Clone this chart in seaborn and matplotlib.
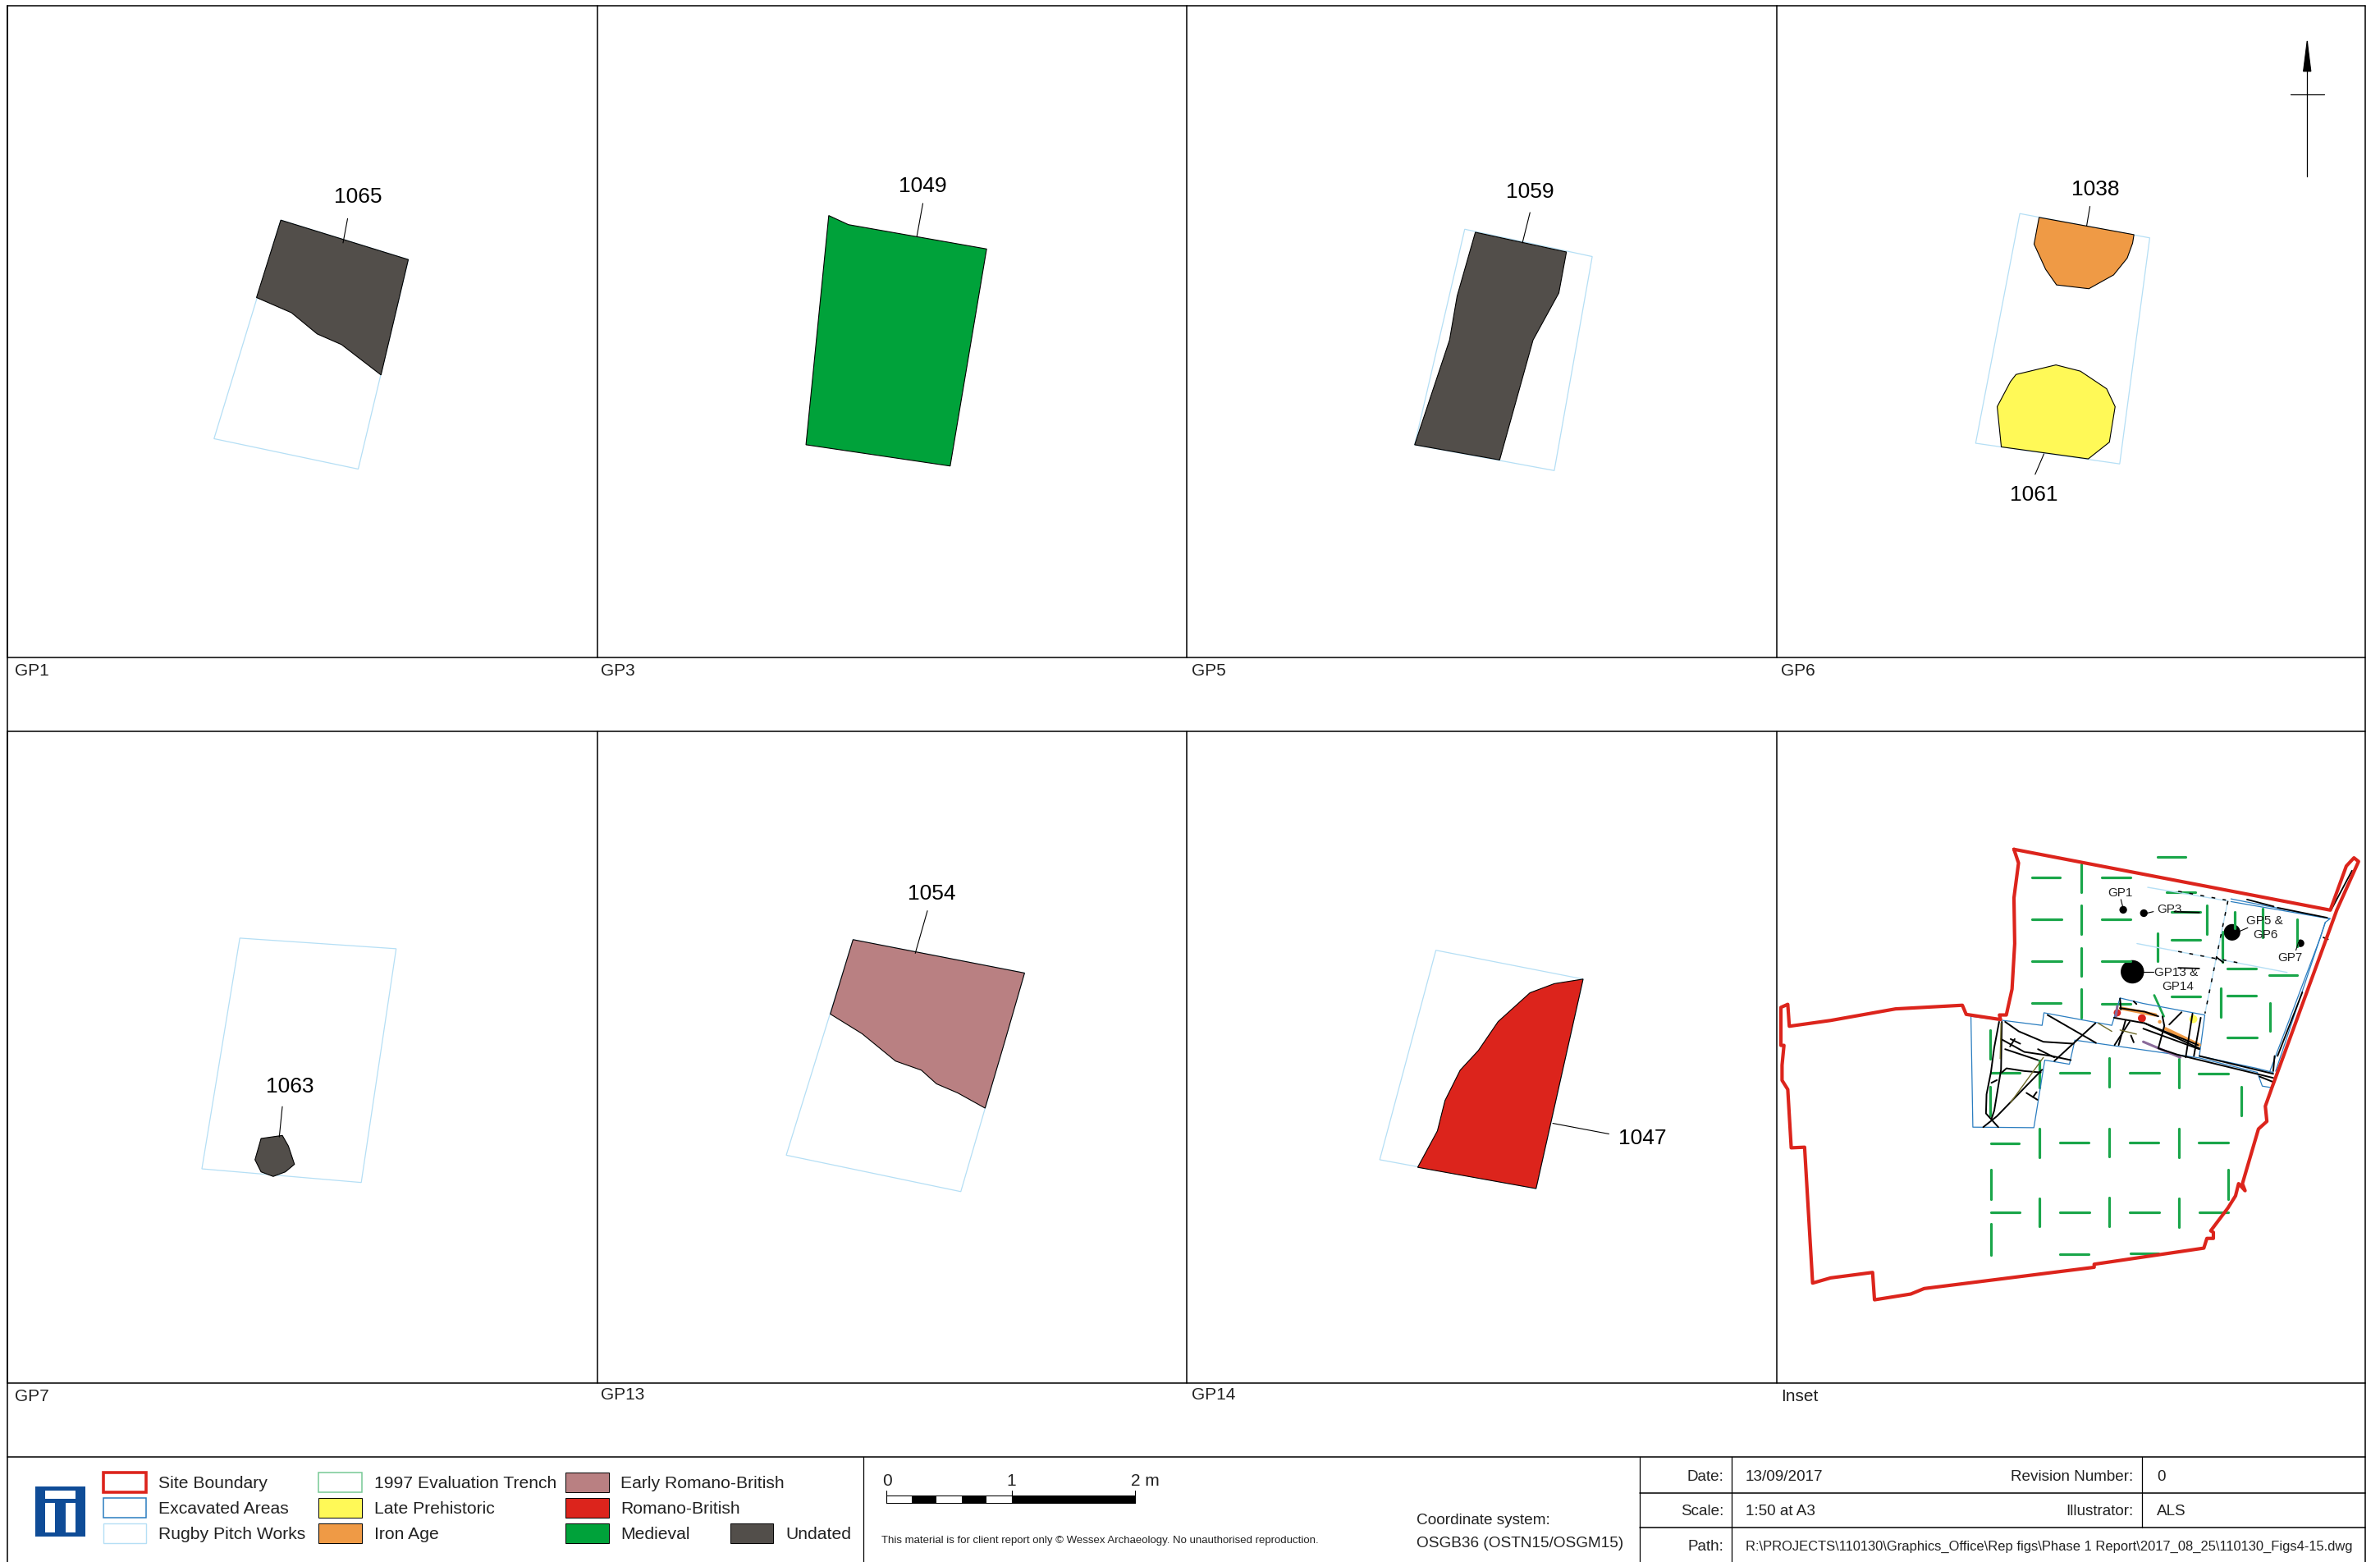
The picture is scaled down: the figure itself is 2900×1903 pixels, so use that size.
import pandas as pd
import seaborn as sns
import matplotlib.pyplot as plt
from matplotlib.patches import Rectangle

sns.set_theme(style='white')
plt.rcParams['font.family'] = ['Liberation Sans', 'DejaVu Sans']

RED = '#dc241c'
GREEN = '#00a23a'
DARK = '#524e4a'
BROWN = '#b98082'
ORANGE = '#ef9a45'
YELLOW = '#fff957'
PITCH = '#b5dff5'
BLUE = '#2a7dc0'
TRENCH = '#1aa64a'
LOGO = '#0f4c97'
PURPLE = '#8a6a9a'
OLIVE = '#6f6a2a'

# Panel shapes, in sheet units (1568 wide, 1029 high)
gp1_rect = [(185, 145), (269, 171), (236, 309), (141, 289)]
gp1_fill = [(185, 145), (269, 171), (251, 247), (225, 227), (209, 220), (192, 206), (169, 196)]
gp3_fill = [(546, 142), (559, 148), (650, 164), (626, 307), (531, 293)]
gp5_rect = [(965, 151), (1049, 169), (1024, 310), (932, 293)]
gp5_fill = [(972, 153), (1032, 166), (1027, 193), (1010, 224), (988, 303), (932, 293), (955, 224), (960, 195)]
gp6_rect = [(1330.7, 140.7), (1416.3, 156.7), (1396.5, 305.6), (1301.6, 292)]
gp6_orange = [(1343.4, 143.2), (1405.9, 154.6), (1405, 160.2), (1401.4, 170.1), (1392.5, 181.1), (1376.2, 190.2), (1354.9, 187.7), (1347.7, 177.4), (1340.1, 160.8)]
gp6_yellow = [(1318.5, 294.4), (1315.8, 267.9), (1324.6, 251.3), (1328.2, 246.7), (1354.5, 240.4), (1370.6, 244.5), (1387.9, 256.1), (1393.5, 267.9), (1389.7, 291.3), (1375.8, 302.3)]
gp7_rect = [(158, 618), (261, 625), (238, 779), (133, 770)]
gp7_fill = [(172, 750), (186, 748), (190, 755), (194, 767), (188, 772), (180, 775), (172, 772), (168, 764)]
gp13_rect = [(562, 619), (675, 641), (633, 785), (518, 761)]
gp13_fill = [(562, 619), (675, 641), (662, 686), (649, 730), (631, 720), (617, 714), (607, 705), (590, 699), (568, 681), (547, 668)]
gp14_rect = [(946, 626), (1043, 645), (1012, 783), (909, 764)]
gp14_fill = [(1043, 645), (1012, 783), (934, 769), (947, 745), (952, 725), (962, 705), (974, 692), (987, 673), (1008, 654), (1024, 648)]

context_labels = ['1065', '1049', '1059', '1038', '1061', '1063', '1054', '1047']
label_xy = [(236, 129), (608, 122), (1008, 126), (1380.5, 124), (1340, 325), (191, 715), (614, 588), (1082, 749)]
leaders = [[(229, 144), (226, 160)], [(608, 134), (604, 156)], [(1008, 140), (1003, 160)],
           [(1376.9, 136), (1374.7, 149)], [(1346.6, 299), (1340.8, 312.5)],
           [(186, 729), (184, 749)], [(611, 600), (603, 628)], [(1023, 740), (1060, 747)]]

panel_names = ['GP1', 'GP3', 'GP5', 'GP6', 'GP7', 'GP13', 'GP14', 'Inset']
panel_name_xy = [(10, 441), (396, 441), (785, 441), (1173.5, 441), (10, 919), (396, 918), (785, 918), (1173.5, 919)]

# Inset map, in units of the enlarged crop it was read from
site_boundary = [(610, 40), (1438, 240), (1480, 95), (1500, 68), (1512, 80), (1455, 240), (1285, 825), (1268, 885),
                 (1272, 935), (1250, 960), (1208, 1140), (1215, 1163), (1198, 1140), (1190, 1180), (1170, 1220),
                 (1125, 1295), (1132, 1300), (1132, 1320), (1115, 1320), (1107, 1352), (820, 1405), (820, 1415),
                 (375, 1485), (340, 1503), (245, 1522), (240, 1432), (130, 1450), (83, 1467), (62, 1020), (27, 1022),
                 (18, 830), (3, 800), (3, 750), (8, 685), (0, 685), (0, 560), (18, 550), (22, 622), (130, 603),
                 (300, 565), (475, 553), (485, 583), (575, 600), (572, 585), (590, 585), (605, 500), (612, 350),
                 (610, 200), (622, 85), (610, 40)]
excavated_ne = [
    [(1178, 203), (1438, 268), (1425, 280), (1412, 330), (1280, 770)],
    [(1178, 212), (1435, 268)],
    [(1425, 280), (1295, 770)],
]
pitch_lines = [[(960, 165), (1170, 210), (1110, 580)], [(932, 350), (1325, 445)]]
features_ne = [
    [(1495, 110), (1440, 240)], [(1365, 510), (1300, 720)],
    [(1140, 395), (1158, 412)], [(1030, 245), (1095, 248)], [(1040, 430), (1095, 432)],
    [(1220, 205), (1290, 228)], [(1300, 232), (1430, 265)], [(1420, 330), (1432, 336)],
]
pitch_dashes = [[(1170, 210), (1110, 580)], [(1040, 376), (1205, 415)], [(1040, 178), (1165, 207)]]
trench_h = [(658, 730, 133), (840, 915, 133), (985, 1060, 64), (1010, 1085, 180), (658, 735, 271), (840, 915, 271),
            (1022, 1098, 247), (1022, 1097, 339), (658, 735, 409), (840, 915, 409), (1168, 1243, 431), (1278, 1352, 454),
            (1022, 1098, 523), (1168, 1243, 522), (658, 732, 547), (840, 915, 548), (1168, 1245, 658),
            (550, 625, 776), (730, 808, 775), (913, 990, 775), (1093, 1170, 779), (550, 623, 1007), (730, 806, 1005),
            (912, 988, 1004), (1093, 1170, 1006), (550, 625, 1235), (730, 808, 1235), (913, 990, 1235), (1095, 1170, 1235),
            (730, 806, 1373), (915, 988, 1370)]
trench_v = [(786, 88, 180), (786, 224, 318), (786, 364, 456), (786, 500, 594), (987, 315, 408), (1115, 225, 318),
            (1187, 245, 300), (1260, 235, 330), (1352, 270, 360), (1155, 310, 410), (1152, 497, 592), (1280, 545, 638),
            (548, 635, 730), (548, 820, 915), (677, 735, 825), (859, 727, 820), (1042, 730, 825), (1205, 820, 915),
            (677, 958, 1052), (859, 958, 1050), (1042, 960, 1052), (549, 1095, 1190), (1170, 1095, 1190),
            (677, 1188, 1280), (859, 1185, 1280), (1042, 1188, 1282), (549, 1272, 1375)]
dots_x = [896, 950, 1181, 1360, 920]
dots_y = [239, 250, 313, 349, 443]
dots_size = [45, 45, 210, 45, 420]
inset_leaders = [[(890, 205), (895, 230)], [(975, 245), (958, 250)], [(1222, 298), (1200, 310)],
                 [(1355, 345), (1348, 372)], [(975, 443), (948, 443)]]
inset_labels = ['GP1', 'GP3', 'GP5 &', 'GP6', 'GP7', 'GP13 &', 'GP14']
inset_label_xy = [(888, 182), (1017, 236), (1265, 272), (1268, 320), (1333, 396), (1035, 442), (1038, 488)]

# Central excavation detail, in units of the second crop
excavated_mid = [
    [(5, 145), (265, 178), (272, 132), (520, 178), (550, 78), (635, 98), (860, 140), (840, 290), (1050, 335), (1110, 350)],
    [(5, 145), (12, 550), (235, 552), (275, 305), (365, 320), (385, 232), (840, 297), (1052, 350), (1070, 400), (1100, 405)],
]
features_mid = [
    [(108, 165), (90, 260), (78, 350), (62, 430), (60, 500), (105, 550)],
    [(118, 165), (115, 340), (90, 490), (80, 520)],
    [(130, 165), (180, 200), (270, 238), (380, 245)],
    [(115, 228), (200, 275), (300, 290), (370, 305)],
    [(150, 228), (185, 245)], [(130, 265), (250, 305)], [(165, 228), (148, 255)], [(250, 265), (310, 295)],
    [(118, 350), (135, 335), (200, 345), (260, 350)],
    [(265, 340), (100, 510), (50, 550)],
    [(208, 425), (248, 450)], [(245, 422), (232, 440)], [(80, 388), (100, 378)],
    [(285, 140), (462, 242)], [(460, 170), (310, 308)],
    [(528, 150), (640, 170), (840, 262)],
    [(640, 170), (835, 250)],
    [(550, 115), (640, 128), (690, 145)], [(550, 80), (553, 120)],
    [(585, 165), (530, 250)], [(570, 160), (545, 250)], [(635, 190), (840, 265)],
    [(705, 145), (712, 180), (690, 262), (760, 285), (1110, 370)],
    [(815, 135), (790, 295)], [(845, 150), (820, 290)], [(775, 130), (730, 175)],
    [(840, 290), (1110, 355)], [(1060, 365), (1110, 385)], [(1115, 290), (1110, 345)],
    [(590, 215), (600, 240)], [(600, 90), (610, 100)],
]
features_olive = [[(470, 170), (520, 200)], [(550, 195), (610, 210)], [(115, 170), (112, 300)], [(270, 295), (150, 460)]]
features_orange = [[(552, 115), (680, 140)], [(715, 190), (840, 250)]]
features_purple = [[(635, 238), (770, 295)], [(540, 108), (535, 145)]]
trench_mid = [[(675, 68), (710, 145)]]
spots_x = [630, 540, 818, 695]
spots_y = [152, 132, 155, 165]
spots_color = [RED, RED, YELLOW, ORANGE]
spots_size = [50, 40, 50, 10]

# Legend entries
legend_names = ['Site Boundary', 'Excavated Areas', 'Rugby Pitch Works', '1997 Evaluation Trench', 'Late Prehistoric',
                'Iron Age', 'Early Romano-British', 'Romano-British', 'Medieval', 'Undated']
legend_fill = ['white', 'white', 'white', 'white', YELLOW, ORANGE, BROWN, RED, GREEN, DARK]
legend_edge = [RED, BLUE, PITCH, '#76c995', 'black', 'black', 'black', 'black', 'black', 'black']
legend_lw = [2.6, 1.1, 1.0, 1.1, 0.7, 0.7, 0.7, 0.7, 0.7, 0.7]
legend_box_x = [68, 68, 68, 210, 210, 210, 372.5, 372.5, 372.5, 481]
legend_box_y = [970, 987, 1003.5, 970, 987, 1003.5, 970, 987, 1003.5, 1003.5]

table_labels = ['Date:', 'Revision Number:', 'Scale:', 'Illustrator:', 'Path:']
table_label_xy = [(1135.5, 973), (1405.5, 973), (1135.5, 996), (1405.5, 996), (1135.5, 1019)]
table_values = ['13/09/2017', '0', '1:50 at A3', 'ALS']
table_value_xy = [(1150, 973), (1421, 973), (1150, 996), (1421, 996)]
drawing_path = 'R:\\PROJECTS\\110130\\Graphics_Office\\Rep figs\\Phase 1 Report\\2017_08_25\\110130_Figs4-15.dwg'


def ix(z):
    return 1173.3 + z / 3.973


def iy(z):
    return 551.5 + z / 4.994


def inset(points):
    return [(ix(x), iy(y)) for x, y in points]


def mid(points):
    return [(1297.6 + x / 5.5485, 643.4 + y / 5.5485) for x, y in points]


def line(ax, points, color='black', lw=1.0, **kwargs):
    frame = pd.DataFrame(points, columns=['x', 'y'])
    sns.lineplot(data=frame, x='x', y='y', sort=False, estimator=None, color=color, linewidth=lw, ax=ax, legend=False, **kwargs)


def patch(ax, points, fill=None, edge='black', lw=0.8):
    xs, ys = zip(*points)
    ax.fill(xs, ys, facecolor=fill if fill else 'none', edgecolor=edge, linewidth=lw)


fig = plt.figure(figsize=(29, 19.03), dpi=100)
ax = fig.add_axes([0, 0, 1, 1])
ax.set_xlim(0, 1568)
ax.set_ylim(1029, 0)
ax.axis('off')

# Sheet frame
for x in [5, 393.5, 782, 1170.5]:
    line(ax, [(x, 4), (x, 433)], lw=1.1)
    line(ax, [(x, 482), (x, 911)], lw=1.1)
line(ax, [(1558.5, 4), (1558.5, 1029)], lw=1.1)
line(ax, [(5, 4), (5, 1029)], lw=1.1)
for y in [4, 433, 482, 911, 960]:
    line(ax, [(5, y), (1558.5, y)], lw=1.1)
line(ax, [(569, 960), (569, 1029)], lw=0.9)
line(ax, [(1080.5, 960), (1080.5, 1029)], lw=0.9)
line(ax, [(1141, 960), (1141, 1029)], lw=0.9)
line(ax, [(1411, 960), (1411, 1006.5)], lw=0.9)
line(ax, [(1080.5, 983.5), (1558.5, 983.5)], lw=1.1)
line(ax, [(1080.5, 1006.5), (1558.5, 1006.5)], lw=1.1)

# Excavation plans
for rect in [gp1_rect, gp5_rect, gp6_rect, gp7_rect, gp13_rect, gp14_rect]:
    patch(ax, rect, edge=PITCH, lw=0.9)
patch(ax, gp1_fill, DARK)
patch(ax, gp3_fill, GREEN)
patch(ax, gp5_fill, DARK)
patch(ax, gp6_orange, ORANGE)
patch(ax, gp6_yellow, YELLOW)
patch(ax, gp7_fill, DARK)
patch(ax, gp13_fill, BROWN)
patch(ax, gp14_fill, RED)
for seg in leaders:
    line(ax, seg, lw=0.8)
for name, (x, y) in zip(context_labels, label_xy):
    ax.text(x, y + 0.8, name, fontsize=19, color='black', ha='center', va='center')
for name, (x, y) in zip(panel_names, panel_name_xy):
    ax.text(x, y + 0.8, name, fontsize=15, color='#222222', ha='left', va='center')

# North arrow
line(ax, [(1520, 27), (1520, 116)], lw=0.9)
line(ax, [(1509, 62), (1531, 62)], lw=0.9)
patch(ax, [(1520, 27), (1517.5, 47), (1522.5, 47)], 'black')

# Inset
trench_rows = []
for i, (x0, x1, y) in enumerate(trench_h):
    trench_rows += [(i, ix(x0), iy(y)), (i, ix(x1), iy(y))]
for i, (x, y0, y1) in enumerate(trench_v):
    trench_rows += [(100 + i, ix(x), iy(y0)), (100 + i, ix(x), iy(y1))]
trenches = pd.DataFrame(trench_rows, columns=['unit', 'x', 'y'])
sns.lineplot(data=trenches, x='x', y='y', units='unit', estimator=None, sort=False, color=TRENCH, linewidth=2.3, ax=ax, legend=False)
for seg in trench_mid:
    line(ax, mid(seg), TRENCH, 2.0)
for seg in pitch_lines:
    line(ax, inset(seg), PITCH, 1.0)
for seg in pitch_dashes:
    line(ax, inset(seg), 'black', 1.1, dashes=(3, 6))
for seg in excavated_ne:
    line(ax, inset(seg), BLUE, 0.9)
for seg in excavated_mid:
    line(ax, mid(seg), BLUE, 0.9)
for seg in features_ne:
    line(ax, inset(seg), 'black', 1.3)
for seg in features_orange:
    line(ax, mid(seg), ORANGE, 3.0)
for seg in features_purple:
    line(ax, mid(seg), PURPLE, 2.2)
for seg in features_mid:
    line(ax, mid(seg), 'black', 1.4)
for seg in features_olive:
    line(ax, mid(seg), OLIVE, 1.0)
line(ax, inset(site_boundary), RED, 3.0)
spots = pd.DataFrame({'x': [p[0] for p in mid(zip(spots_x, spots_y))], 'y': [p[1] for p in mid(zip(spots_x, spots_y))]})
ax.scatter(spots['x'], spots['y'], s=spots_size, c=spots_color, linewidths=0)
dots = pd.DataFrame({'x': [ix(v) for v in dots_x], 'y': [iy(v) for v in dots_y], 's': dots_size})
sns.scatterplot(data=dots, x='x', y='y', s=dots['s'], color='black', linewidth=0, ax=ax, legend=False)
for seg in inset_leaders:
    line(ax, inset(seg), lw=0.8)
for name, (x, y) in zip(inset_labels, inset_label_xy):
    ax.text(ix(x), iy(y) + 0.5, name, fontsize=11, color='#222222', ha='center', va='center')
ax.set_xlabel('')
ax.set_ylabel('')

# Logo
ax.add_patch(Rectangle((23, 979), 33, 33.5, facecolor=LOGO, edgecolor='none'))
ax.add_patch(Rectangle((29.6, 982.2), 20.4, 5.4, facecolor='white', edgecolor='none'))
ax.add_patch(Rectangle((29.6, 990.3), 6.4, 19, facecolor='white', edgecolor='none'))
ax.add_patch(Rectangle((43.2, 990.3), 6.8, 19, facecolor='white', edgecolor='none'))

# Legend
for name, fc, ec, lw, bx, by in zip(legend_names, legend_fill, legend_edge, legend_lw, legend_box_x, legend_box_y):
    ax.add_patch(Rectangle((bx, by), 28.5, 13, facecolor=fc, edgecolor=ec, linewidth=lw))
    ax.text(bx + 36.5, by + 7.3, name, fontsize=15.2, color='#222222', ha='left', va='center')

# Scale bar
ax.add_patch(Rectangle((584, 985), 164, 5, facecolor='black', edgecolor='black', linewidth=0.8))
for start in [584, 617, 650]:
    ax.add_patch(Rectangle((start, 986), 16.5, 4, facecolor='white', edgecolor='none'))
line(ax, [(584, 982), (584, 990)], lw=0.8)
line(ax, [(666.5, 982), (666.5, 990)], lw=0.8)
line(ax, [(748, 982), (748, 990)], lw=0.8)
for name, x in zip(['0', '1', '2 m'], [584.5, 666.5, 754.5]):
    ax.text(x, 976, name, fontsize=15, color='#222222', ha='center', va='center')

ax.text(580.5, 1015, 'This material is for client report only © Wessex Archaeology. No unauthorised reproduction.',
        fontsize=9.5, color='#222222', ha='left', va='center')
ax.text(933, 1001.5, 'Coordinate system:', fontsize=13.7, color='#222222', ha='left', va='center')
ax.text(933, 1017, 'OSGB36 (OSTN15/OSGM15)', fontsize=13.7, color='#222222', ha='left', va='center')

# Title block
for name, (x, y) in zip(table_labels, table_label_xy):
    ax.text(x, y, name, fontsize=13.6, color='#222222', ha='right', va='center')
for name, (x, y) in zip(table_values, table_value_xy):
    ax.text(x, y, name, fontsize=13.6, color='#222222', ha='left', va='center')
ax.text(1150, 1019, drawing_path, fontsize=11.85, color='#222222', ha='left', va='center')

fig.savefig('out.png', dpi=100, facecolor='white')
